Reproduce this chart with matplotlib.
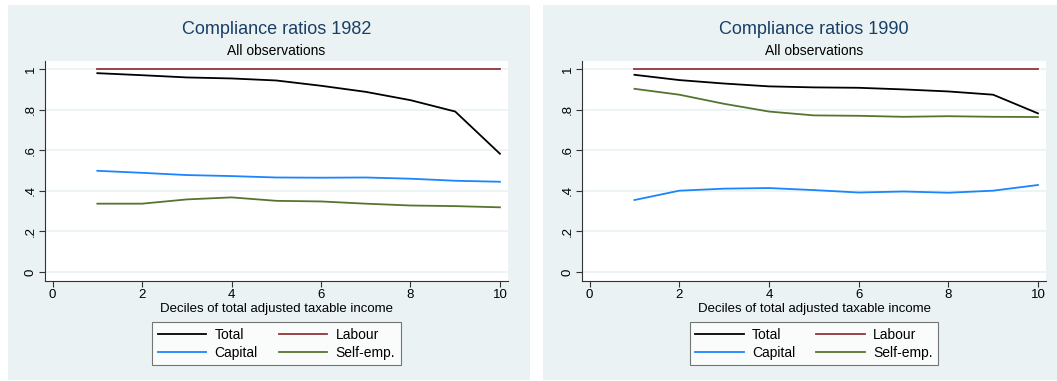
import matplotlib.pyplot as plt
from matplotlib.patches import Rectangle

plt.rcParams['font.family'] = ['Liberation Sans', 'DejaVu Sans']

deciles = [1, 2, 3, 4, 5, 6, 7, 8, 9, 10]
series_names = ["Total", "Labour", "Capital", "Self-emp."]

total_1982 = [0.980, 0.970, 0.959, 0.954, 0.944, 0.918, 0.888, 0.847, 0.791, 0.583]
labour_1982 = [1, 1, 1, 1, 1, 1, 1, 1, 1, 1]
capital_1982 = [0.499, 0.489, 0.478, 0.473, 0.466, 0.465, 0.466, 0.460, 0.450, 0.445]
selfemp_1982 = [0.337, 0.337, 0.358, 0.368, 0.351, 0.348, 0.337, 0.328, 0.325, 0.319]

total_1990 = [0.972, 0.946, 0.929, 0.915, 0.910, 0.908, 0.900, 0.890, 0.874, 0.782]
labour_1990 = [1, 1, 1, 1, 1, 1, 1, 1, 1, 1]
capital_1990 = [0.355, 0.401, 0.411, 0.414, 0.404, 0.392, 0.397, 0.391, 0.401, 0.429]
selfemp_1990 = [0.903, 0.874, 0.829, 0.791, 0.772, 0.770, 0.765, 0.768, 0.765, 0.764]

x_ticks = [0, 2, 4, 6, 8, 10]
y_ticks = [0, 0.2, 0.4, 0.6, 0.8, 1]
y_labels = ["0", ".2", ".4", ".6", ".8", "1"]

colors = ["#000000", "#90353B", "#1A85FF", "#55752F"]
bg = "#EAF2F3"
title_color = "#1A3F66"

W, H = 1057, 381
fig = plt.figure(figsize=(W / 100, H / 100), dpi=100)

def px_rect(x0, y0, x1, y1):
    return [x0 / W, 1 - y1 / H, (x1 - x0) / W, (y1 - y0) / H]

# panel backgrounds
for x0, x1 in [(8, 530), (543, 1057)]:
    r = px_rect(x0, 5, x1, 380)
    fig.patches.append(Rectangle((r[0], r[1]), r[2], r[3], transform=fig.transFigure,
                                 facecolor=bg, edgecolor="none", zorder=-5))

panels = [
    ("Compliance ratios 1982", (45, 508), [total_1982, labour_1982, capital_1982, selfemp_1982]),
    ("Compliance ratios 1990", (582, 1046), [total_1990, labour_1990, capital_1990, selfemp_1990]),
]

for title, (xl, xr), data in panels:
    ax = fig.add_axes(px_rect(xl, 61, xr, 281))
    ax.set_facecolor("white")
    lines = []
    for vals, c, name in zip(data, colors, series_names):
        ln, = ax.plot(deciles, vals, color=c, lw=1.3, label=name)
        lines.append(ln)

    ax.set_xlim(-0.17, 10.18)
    ax.set_ylim(-0.044, 1.04)
    ax.set_xticks(x_ticks)
    ax.set_yticks(y_ticks)
    ax.set_yticklabels(y_labels, rotation=90, va="center")
    ax.grid(axis="y", color=bg, lw=1.2)
    ax.set_axisbelow(True)
    for s in ["top", "right"]:
        ax.spines[s].set_visible(False)
    for s in ["left", "bottom"]:
        ax.spines[s].set_color("#333333")
        ax.spines[s].set_linewidth(0.8)
    ax.tick_params(direction="out", length=4, width=0.8, color="#333333",
                   labelsize=9.5, pad=2)
    ax.set_xlabel("Deciles of total adjusted taxable income", fontsize=9.5, labelpad=1)

    cx = (xl + xr) / 2 / W
    fig.text(cx, 1 - 29 / H, title, ha="center", va="center", fontsize=13, color=title_color)
    fig.text(cx, 1 - 51 / H, "All observations", ha="center", va="center", fontsize=10)

    # row-wise order: Total, Labour / Capital, Self-emp.
    order = [0, 2, 1, 3]
    leg = ax.legend([lines[i] for i in order], [series_names[i] for i in order],
                    ncol=2, loc="upper center", bbox_to_anchor=(cx, 1 - 322 / H),
                    bbox_transform=fig.transFigure,
                    fontsize=10, frameon=True, fancybox=False, edgecolor="#555555",
                    handlelength=3.5, columnspacing=1.5, labelspacing=0.3,
                    borderpad=0.4, handletextpad=0.6, borderaxespad=0)
    leg.get_frame().set_linewidth(0.8)

fig.savefig("out.png", dpi=100)
